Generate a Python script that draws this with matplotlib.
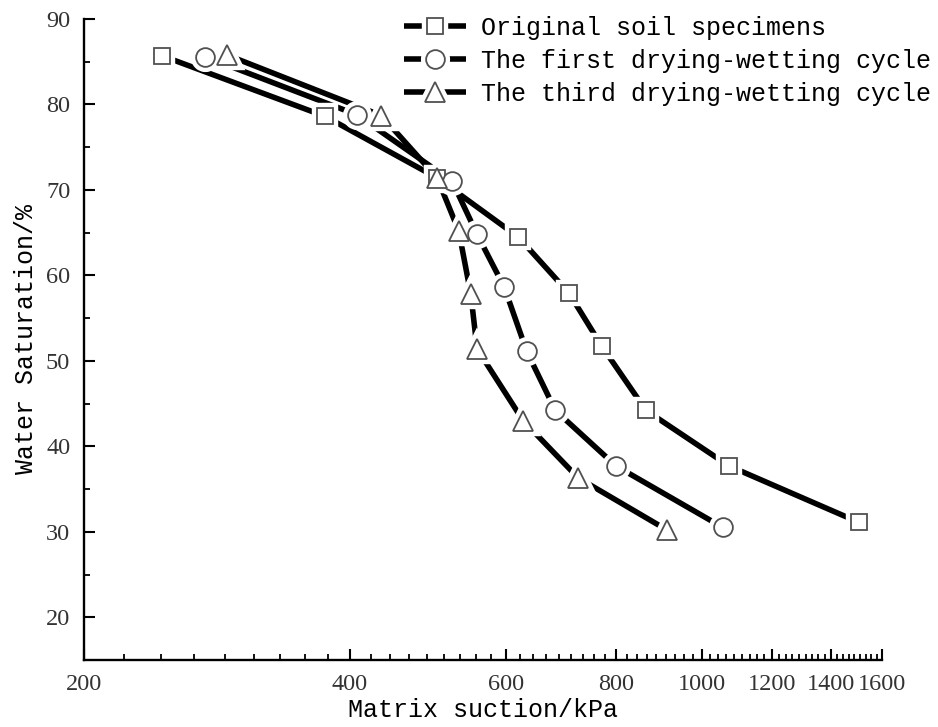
"""Soil-water characteristic curves under drying-wetting cycles."""

import matplotlib

matplotlib.use("Agg")
import matplotlib.pyplot as plt
import numpy as np
from matplotlib.legend_handler import HandlerTuple
from matplotlib.ticker import FixedLocator, NullFormatter

# matrix suction (kPa) and water saturation (%)
suction_original = [245, 375, 502, 620, 708, 771, 865, 1074, 1507]
sat_original = [85.7, 78.6, 71.4, 64.5, 57.9, 51.7, 44.2, 37.7, 31.1]

suction_first = [274, 407, 522, 557, 598, 634, 683, 800, 1057]
sat_first = [85.6, 78.8, 71.0, 64.8, 58.6, 51.1, 44.2, 37.7, 30.5]

suction_third = [290, 434, 502, 531, 548, 557, 628, 725, 914]
sat_third = [85.8, 78.7, 71.4, 65.2, 57.8, 51.4, 43.0, 36.3, 30.2]

labels = [
    "Original soil specimens",
    "The first drying-wetting cycle",
    "The third drying-wetting cycle",
]
x_major = [200, 400, 600, 800, 1000, 1200, 1400, 1600]
y_major = [20, 30, 40, 50, 60, 70, 80, 90]

TEXT_FONT = "Liberation Mono"
TICK_FONT = "Liberation Serif"

fig = plt.figure(figsize=(9.38, 7.27), dpi=100)
ax = fig.add_axes([0.0896, 0.0922, 0.8507, 0.8817])

series = [
    (suction_original, sat_original, "s", 12),
    (suction_first, sat_first, "o", 13.5),
    (suction_third, sat_third, "^", 15),
]

handles = []
for (xs, ys, mk, ms), lab in zip(series, labels):
    line, = ax.plot(xs, ys, color="black", lw=4, solid_capstyle="butt", zorder=2)
    halo, = ax.plot(xs, ys, ls="none", marker=mk, ms=ms, mfc="white",
                    mec="white", mew=7.5, zorder=3)
    mark, = ax.plot(xs, ys, ls="none", marker=mk, ms=ms, mfc="white",
                    mec="#505050", mew=1.3, zorder=4)
    handles.append((line, halo, mark))

ax.set_xscale("log")
ax.set_xlim(200, 1600)
ax.set_ylim(15, 90)

minor = []
for a, b in zip(x_major[:-1], x_major[1:]):
    minor += [a + (b - a) * k / 9 for k in range(1, 9)]
ax.xaxis.set_major_locator(FixedLocator(x_major))
ax.xaxis.set_minor_locator(FixedLocator(minor))
ax.xaxis.set_minor_formatter(NullFormatter())
ax.set_xticklabels([str(v) for v in x_major])
ax.yaxis.set_major_locator(FixedLocator(y_major))
ax.yaxis.set_minor_locator(FixedLocator(np.arange(25, 90, 10)))

for s in ["top", "right"]:
    ax.spines[s].set_visible(False)
for s in ["left", "bottom"]:
    ax.spines[s].set_linewidth(1.7)

ax.tick_params(which="major", direction="in", length=8, width=1.5,
               labelsize=17.5, pad=10)
ax.tick_params(which="minor", direction="in", length=4, width=1.3)
for t in ax.get_xticklabels() + ax.get_yticklabels():
    t.set_fontfamily(TICK_FONT)
    t.set_color("#333333")

ax.set_xlabel("Matrix suction/kPa", fontsize=18, family=TEXT_FONT, labelpad=2)
ax.set_ylabel("Water Saturation/%", fontsize=18, family=TEXT_FONT, labelpad=6)

ax.legend(handles, labels, handler_map={tuple: HandlerTuple(ndivide=1, pad=0)},
          loc="upper right", bbox_to_anchor=(931 / 938, 1 - 16 / 727),
          bbox_transform=fig.transFigure, frameon=False, borderpad=0,
          borderaxespad=0, handlelength=2.5, handletextpad=0.6,
          labelspacing=0.36, prop={"family": TEXT_FONT, "size": 18})

fig.savefig("out.png", dpi=100)
plt.close(fig)
